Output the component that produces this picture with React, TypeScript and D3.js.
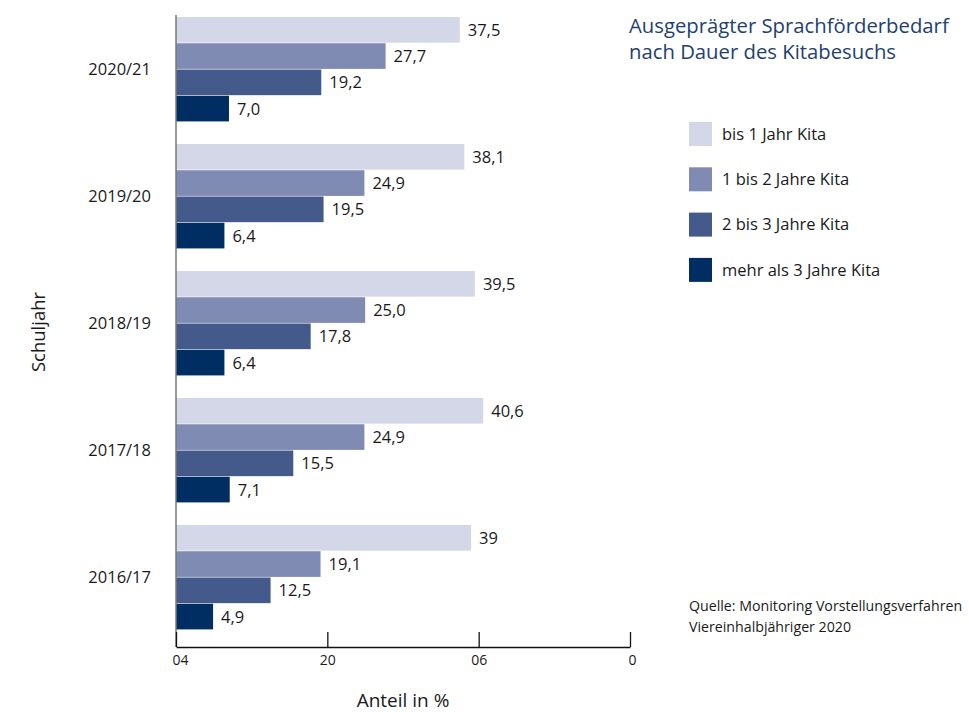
import React, { useEffect, useRef } from 'react';
import * as d3 from 'd3';

const years = ['2020/21', '2019/20', '2018/19', '2017/18', '2016/17'];
const series = ['bis 1 Jahr Kita', '1 bis 2 Jahre Kita', '2 bis 3 Jahre Kita', 'mehr als 3 Jahre Kita'];
const bis1 = [37.5, 38.1, 39.5, 40.6, 39];
const bis2 = [27.7, 24.9, 25.0, 24.9, 19.1];
const bis3 = [19.2, 19.5, 17.8, 15.5, 12.5];
const mehr3 = [7.0, 6.4, 6.4, 7.1, 4.9];
const valueLabels = [
  ['37,5', '27,7', '19,2', '7,0'],
  ['38,1', '24,9', '19,5', '6,4'],
  ['39,5', '25,0', '17,8', '6,4'],
  ['40,6', '24,9', '15,5', '7,1'],
  ['39', '19,1', '12,5', '4,9'],
];
const tickValues = [0, 20, 40, 60];
const tickLabels = ['04', '20', '06', '0'];
const colors = ['#d4d7e8', '#7f8bb3', '#435a8a', '#002d62'];

const FONT = '"Open Sans", sans-serif';

export default function App() {
  const ref = useRef<SVGSVGElement>(null);

  useEffect(() => {
    const svg = d3.select(ref.current);
    svg.selectAll('*').remove();

    const x = d3.scaleLinear().domain([0, 60]).range([176, 630]);
    const y = d3.scaleBand().domain(years).range([6, 641]).paddingInner(0.173).paddingOuter(0.0866);
    const inner = d3.scaleBand().domain(series).range([0, y.bandwidth()]);
    const all = [bis1, bis2, bis3, mehr3];

    const rows = years.flatMap((yr, i) =>
      series.map((s, j) => ({ yr, s, v: all[j][i], label: valueLabels[i][j], c: colors[j] }))
    );

    const g = svg.append('g');
    g.selectAll('rect.bar')
      .data(rows)
      .enter()
      .append('rect')
      .attr('class', 'bar')
      .attr('x', x(0))
      .attr('y', (d) => (y(d.yr) as number) + (inner(d.s) as number))
      .attr('width', (d) => x(d.v) - x(0))
      .attr('height', inner.bandwidth() - 0.6)
      .attr('fill', (d) => d.c);

    g.selectAll('text.val')
      .data(rows)
      .enter()
      .append('text')
      .attr('x', (d) => x(d.v) + 8)
      .attr('y', (d) => (y(d.yr) as number) + (inner(d.s) as number) + inner.bandwidth() / 2)
      .attr('dy', '0.35em')
      .attr('font-family', FONT)
      .attr('font-size', 16.5)
      .attr('fill', '#1a1a1a')
      .text((d) => d.label);

    // category labels
    g.selectAll('text.cat')
      .data(years)
      .enter()
      .append('text')
      .attr('x', 151)
      .attr('y', (d) => (y(d) as number) + y.bandwidth() / 2)
      .attr('dy', '0.35em')
      .attr('text-anchor', 'end')
      .attr('font-family', FONT)
      .attr('font-size', 16.5)
      .attr('fill', '#1a1a1a')
      .text((d) => d);

    // left axis line
    g.append('line')
      .attr('x1', 176).attr('x2', 176).attr('y1', 15).attr('y2', 647)
      .attr('stroke', '#777').attr('stroke-width', 1.5);

    // bottom axis
    const axis = g.append('g').attr('transform', 'translate(0,647)');
    axis.call(
      d3.axisBottom(x)
        .tickValues(tickValues)
        .tickSize(-15)
        .tickSizeOuter(0)
        .tickFormat((d, i) => tickLabels[i])
    );
    axis.select('.domain').attr('stroke', '#111').attr('stroke-width', 1.5);
    axis.selectAll('.tick line').attr('stroke', '#111').attr('stroke-width', 1.3);
    axis.selectAll('.tick text')
      .attr('font-family', FONT)
      .attr('font-size', 14)
      .attr('fill', '#1a1a1a')
      .attr('y', 8)
      .attr('dy', '0.71em');
    axis.selectAll('.tick text').filter((d, i) => i === 0).attr('dx', 4);
    axis.selectAll('.tick text').filter((d, i) => i === 3).attr('dx', 2);

    // axis titles
    svg.append('text')
      .attr('x', 403).attr('y', 707)
      .attr('text-anchor', 'middle')
      .attr('font-family', FONT).attr('font-size', 19).attr('fill', '#1a1a1a')
      .text('Anteil in %');
    svg.append('text')
      .attr('transform', 'translate(45,332) rotate(-90)')
      .attr('text-anchor', 'middle')
      .attr('font-family', FONT).attr('font-size', 18.5).attr('fill', '#1a1a1a')
      .text('Schuljahr');

    // title
    const title = svg.append('text')
      .attr('font-family', FONT).attr('font-size', 20.3).attr('fill', '#1e4170');
    title.append('tspan').attr('x', 629).attr('y', 33).text('Ausgeprägter Sprachförderbedarf');
    title.append('tspan').attr('x', 629).attr('y', 59).text('nach Dauer des Kitabesuchs');

    // legend
    const leg = svg.append('g');
    series.forEach((s, i) => {
      const ly = 122 + i * 45.3;
      leg.append('rect').attr('x', 689).attr('y', ly).attr('width', 23).attr('height', 24).attr('fill', colors[i]);
      leg.append('text')
        .attr('x', 722).attr('y', ly + 12).attr('dy', '0.35em')
        .attr('font-family', FONT).attr('font-size', 16.5).attr('fill', '#1a1a1a')
        .text(s);
    });

    // source
    const src = svg.append('text')
      .attr('font-family', FONT).attr('font-size', 14.2).attr('fill', '#1a1a1a');
    src.append('tspan').attr('x', 689).attr('y', 611).text('Quelle: Monitoring Vorstellungsverfahren');
    src.append('tspan').attr('x', 689).attr('y', 632).text('Viereinhalbjähriger 2020');
  }, []);

  return (
    <svg ref={ref} width={969} height={712} style={{ position: 'absolute', left: 0, top: 0, background: '#fff' }}></svg>
  );
}
